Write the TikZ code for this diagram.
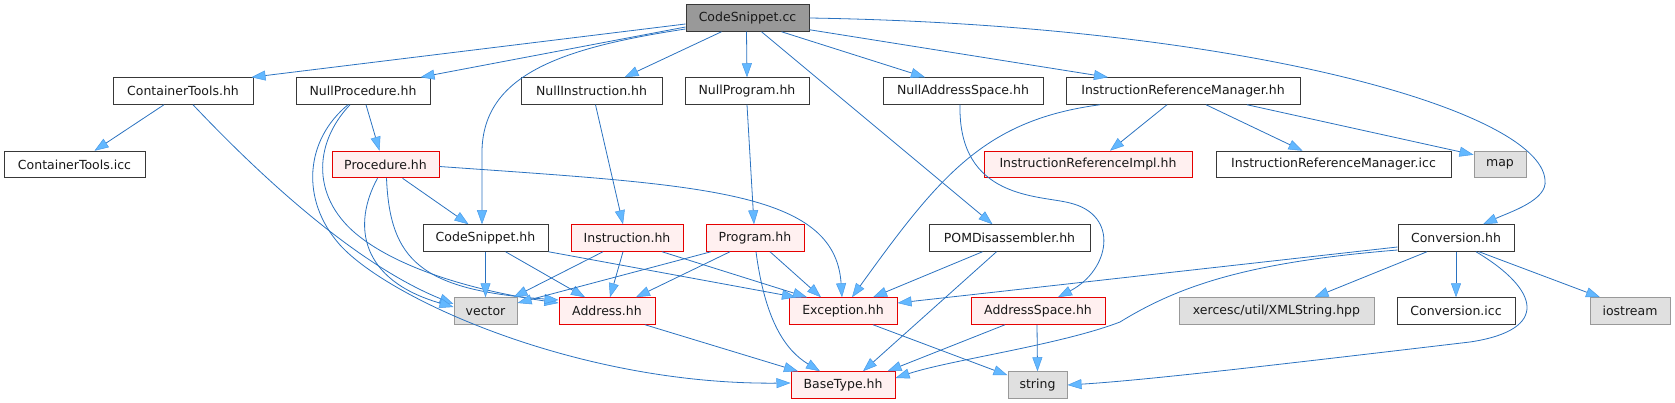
\documentclass[tikz,border=0pt]{standalone}
\usepackage{fontspec}
\setmainfont{DejaVu Sans}
\usetikzlibrary{arrows.meta}
\definecolor{edgec}{HTML}{2A72C0}
\definecolor{tipc}{HTML}{63B8FF}
\definecolor{tipd}{HTML}{4A9BE8}
\definecolor{nborder}{HTML}{383838}
\definecolor{rootfill}{HTML}{999999}
\definecolor{redfill}{HTML}{FFF0F0}
\definecolor{extfill}{HTML}{E0E0E0}
\definecolor{extborder}{HTML}{999999}
\tikzset{
  base/.style={rectangle, minimum height=26.5pt, inner sep=0pt, text=black!90,
     font=\fontsize{12.5}{14}\selectfont, line width=1pt},
  nbox/.style={base, draw=nborder, fill=white},
  rootbox/.style={base, draw=nborder, fill=rootfill},
  redbox/.style={base, draw=red!90!black, fill=redfill},
  extbox/.style={base, draw=extborder, fill=extfill},
  edge/.style={draw=edgec, line width=0.8pt,
     -{Triangle[length=14pt,width=10pt,fill=tipc,color=tipd,line width=0.5pt]}},
}
\begin{document}
\begin{tikzpicture}[x=1pt,y=-1pt]
\useasboundingbox (0,0) rectangle (1675,403);
% row 0
\node[rootbox, minimum width=123pt] (cc) at (747.5,18) {CodeSnippet.cc};
% row 1
\node[nbox, minimum width=140pt] (cth) at (183,91) {ContainerTools.hh};
\node[nbox, minimum width=134pt] (nph) at (363,91) {NullProcedure.hh};
\node[nbox, minimum width=141pt] (nih) at (591.5,91) {NullInstruction.hh};
\node[nbox, minimum width=124pt] (nprog) at (747,91) {NullProgram.hh};
\node[nbox, minimum width=160pt] (nas) at (963,91) {NullAddressSpace.hh};
\node[nbox, minimum width=234pt] (irm) at (1183,91) {InstructionReferenceManager.hh};
% row 2
\node[nbox, minimum width=141pt] (cti) at (74.5,164.5) {ContainerTools.icc};
\node[redbox, minimum width=107pt] (proc) at (385.5,164.5) {Procedure.hh};
\node[redbox, minimum width=208pt] (iri) at (1088,164.5) {InstructionReferenceImpl.hh};
\node[nbox, minimum width=235pt] (irmi) at (1333.5,164.5) {InstructionReferenceManager.icc};
\node[extbox, minimum width=52pt] (map) at (1500,164.5) {map};
% row 3
\node[nbox, minimum width=125pt] (csh) at (485.5,238) {CodeSnippet.hh};
\node[redbox, minimum width=112pt] (ins) at (627,238) {Instruction.hh};
\node[redbox, minimum width=98pt] (prog) at (755,238) {Program.hh};
\node[nbox, minimum width=161pt] (pom) at (1009.5,238) {POMDisassembler.hh};
\node[nbox, minimum width=116pt] (conv) at (1456,238) {Conversion.hh};
% row 4
\node[extbox, minimum width=63pt] (vec) at (485.5,311) {vector};
\node[redbox, minimum width=96pt] (addr) at (607,311) {Address.hh};
\node[redbox, minimum width=108pt] (exc) at (843,311) {Exception.hh};
\node[redbox, minimum width=134pt] (as) at (1038,311) {AddressSpace.hh};
\node[extbox, minimum width=195pt] (xml) at (1276.5,311) {xercesc/util/XMLString.hpp};
\node[nbox, minimum width=118pt] (convi) at (1456,311) {Conversion.icc};
\node[extbox, minimum width=80pt] (ios) at (1630,311) {iostream};
% row 5
\node[redbox, minimum width=104pt] (bt) at (843,385) {BaseType.hh};
\node[extbox, minimum width=59pt] (str) at (1037.5,385) {string};

% edges from CodeSnippet.cc
\draw[edge] ([yshift=-6]cc.west) -- ([xshift=-2]cth.north east);
\draw[edge] ([yshift=-9]cc.west) -- ([xshift=-10]nph.north east);
\draw[edge] ([yshift=-11]cc.west) .. controls (560,48) and (484,75) .. (482,150) -- ([xshift=-3.5]csh.north);
\draw[edge] ([xshift=-26]cc.south) -- ([xshift=33]nih.north);
\draw[edge] ([xshift=-1]cc.south) -- (nprog.north);
\draw[edge] ([xshift=14]cc.south) -- ([xshift=-17]pom.north);
\draw[edge] ([xshift=34]cc.south) -- ([xshift=-38]nas.north);
\draw[edge] ([yshift=2]cc.south east) -- ([xshift=-75]irm.north);
\draw[edge] (cc.east) .. controls (1240,25) and (1540,110) .. (1545,180) .. controls (1548,200) and (1510,212) .. ([xshift=27]conv.north);
% ContainerTools.hh
\draw[edge] ([xshift=-19]cth.south) -- ([xshift=20]cti.north);
\draw[edge] ([xshift=10]cth.south) .. controls (250,165) and (350,262) .. ([yshift=7]vec.west);
% NullProcedure.hh
\draw[edge] ([xshift=3]nph.south) -- ([xshift=-6]proc.north);
\draw[edge] ([xshift=-15]nph.south) .. controls (305,140) and (300,200) .. (340,245) .. controls (390,300) and (580,385) .. ([yshift=2]bt.west);
\draw[edge] ([xshift=-13]nph.south) .. controls (312,145) and (312,200) .. (360,237) .. controls (400,268) and (470,290) .. ([yshift=8]addr.west);
% Procedure.hh
\draw[edge] ([xshift=17]proc.south) -- ([xshift=-17]csh.north);
\draw[edge] ([yshift=-2]proc.east) .. controls (700,185) and (835,190) .. ([xshift=-1]exc.north);
\draw[edge] ([xshift=-8]proc.south) .. controls (352,225) and (360,280) .. ([yshift=4]vec.west);
\draw[edge] ([xshift=1]proc.south) .. controls (390,260) and (420,290) .. ([yshift=11]addr.west);
% Null* -> *
\draw[edge] ([xshift=4]nih.south) -- ([xshift=-4]ins.north);
\draw[edge] (nprog.south) -- ([xshift=-1]prog.north);
\draw[edge] ([xshift=-3]nas.south) .. controls (958,200) and (1040,195) .. (1070,203) .. controls (1120,215) and (1110,270) .. ([xshift=20]as.north);
% InstructionReferenceManager.hh
\draw[edge] ([xshift=-83]irm.south) .. controls (985,120) and (940,175) .. ([xshift=9]exc.north);
\draw[edge] ([xshift=-16]irm.south) -- ([xshift=22]iri.north);
\draw[edge] ([xshift=23]irm.south) -- ([xshift=-31]irmi.north);
\draw[edge] ([xshift=64]irm.south) -- ([yshift=-4]map.north west);
% CodeSnippet.hh
\draw[edge] (csh.south) -- (vec.north);
\draw[edge] ([xshift=20]csh.south) -- ([xshift=-22]addr.north);
\draw[edge] (csh.south east) -- ([xshift=-47]exc.north);
% Instruction.hh
\draw[edge] ([xshift=-24]ins.south) -- ([xshift=-4]vec.north east);
\draw[edge] ([xshift=-4]ins.south) -- ([xshift=3]addr.north);
\draw[edge] ([xshift=35]ins.south) -- ([xshift=-36]exc.north);
% Program.hh
\draw[edge] ([xshift=-44]prog.south) -- ([yshift=8]vec.east);
\draw[edge] ([xshift=-25]prog.south) -- ([xshift=29]addr.north);
\draw[edge] ([xshift=15]prog.south) -- ([xshift=-22]exc.north);
\draw[edge] ([xshift=1]prog.south) .. controls (765,320) and (785,350) .. ([xshift=-23]bt.north);
% POMDisassembler.hh
\draw[edge] ([xshift=-27]pom.south) -- ([xshift=30]exc.north);
\draw[edge] ([xshift=-13]pom.south) -- ([xshift=20]bt.north);
% Conversion.hh
\draw[edge] ([yshift=-9]conv.west) -- ([yshift=8]exc.east);
\draw[edge] ([yshift=-12]conv.west) .. controls (1250,262) and (1180,285) .. (1120,322) .. controls (1060,345) and (950,360) .. ([yshift=7]bt.east);
\draw[edge] ([xshift=-29]conv.south) -- ([xshift=38]xml.north);
\draw[edge] (conv.south) -- (convi.north);
\draw[edge] ([xshift=23]conv.south) -- ([xshift=-30]ios.north);
\draw[edge] ([xshift=20]conv.south) .. controls (1540,290) and (1550,330) .. (1470,342) .. controls (1300,362) and (1150,380) .. (str.east);
% row 4 -> row 5
\draw[edge] ([xshift=38]addr.south) -- ([xshift=-45]bt.north);
\draw[edge] ([xshift=30]exc.south) -- ([yshift=-4]str.north west);
\draw[edge] ([xshift=-33]as.south) -- ([xshift=-8]bt.north east);
\draw[edge] ([xshift=-1]as.south) -- (str.north);
\end{tikzpicture}
\end{document}
